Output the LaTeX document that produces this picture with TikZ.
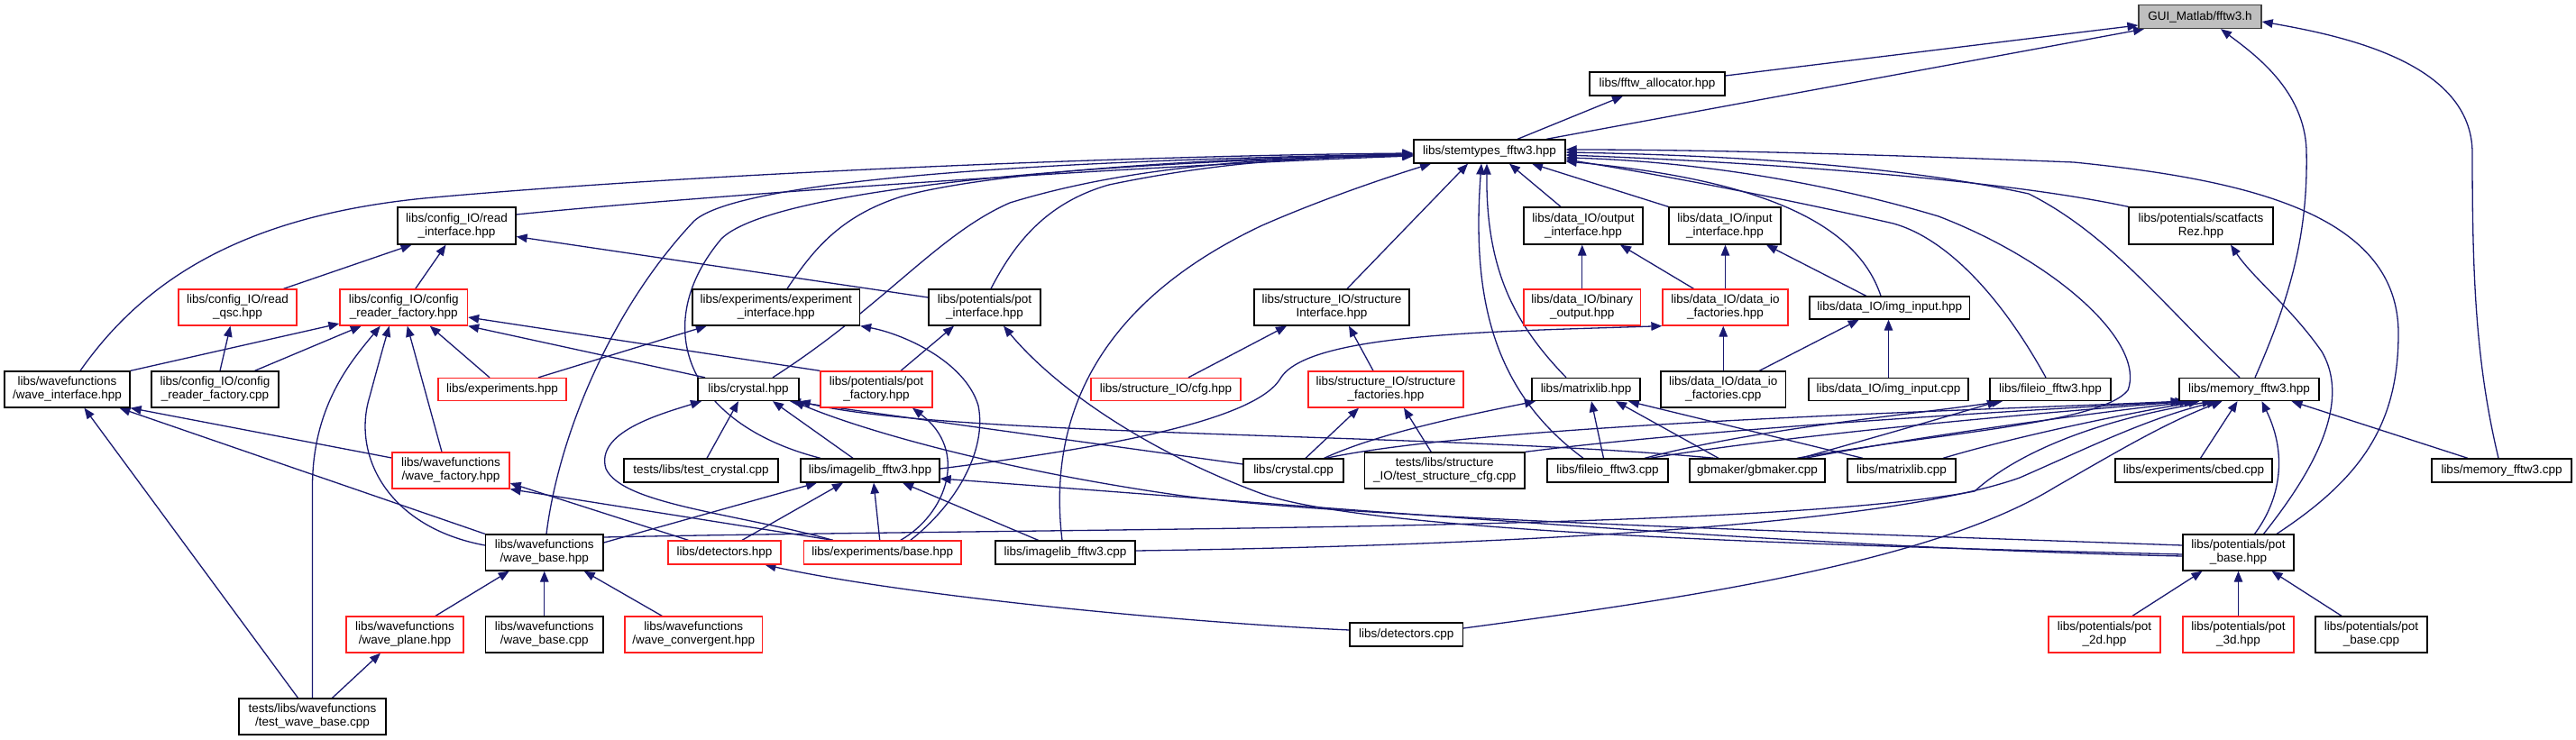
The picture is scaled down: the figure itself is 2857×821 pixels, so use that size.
\documentclass[tikz,border=0pt]{standalone}
\usepackage{fontspec}
\setmainfont{Liberation Sans}
\usetikzlibrary{arrows.meta}
\pgfdeclarelayer{background}
\pgfsetlayers{background,main}
\definecolor{edgeblue}{HTML}{191970}
\definecolor{nodered}{HTML}{FF2020}
\definecolor{rootfill}{HTML}{BFBFBF}
\begin{document}
\begin{tikzpicture}[x=1pt,y=-1pt,
  box/.style={draw=black, line width=1.3pt, fill=white, inner sep=0pt, align=center, font=\fontsize{13.5pt}{15pt}\selectfont},
  rbox/.style={box, draw=nodered},
  inc/.style={draw=edgeblue, line width=1.3pt, -{Triangle[length=12pt,width=9.5pt]}},
]
\useasboundingbox (0,0) rectangle (2857,821);
% ---------------- nodes ----------------
\node[box, fill=rootfill, draw=black!75, minimum width=136pt, minimum height=26pt] (GUI) at (2440,18.5) {GUI\_Matlab/fftw3.h};
\node[box, minimum width=150pt, minimum height=26pt] (alloc) at (1838,93) {libs/fftw\_allocator.hpp};
\node[box, minimum width=168pt, minimum height=26pt] (stem) at (1652,168) {libs/stemtypes\_fftw3.hpp};
\node[box, minimum width=131pt, minimum height=41pt] (readif) at (506.5,250.5) {libs/config\_IO/read\\\_interface.hpp};
\node[box, minimum width=132pt, minimum height=41pt] (outif) at (1756,250.5) {libs/data\_IO/output\\\_interface.hpp};
\node[box, minimum width=124pt, minimum height=41pt] (inif) at (1913,250.5) {libs/data\_IO/input\\\_interface.hpp};
\node[box, minimum width=160pt, minimum height=41pt] (scat) at (2441,250.5) {libs/potentials/scatfacts\\Rez.hpp};
\node[rbox, minimum width=131pt, minimum height=40pt] (readqsc) at (263.5,341) {libs/config\_IO/read\\\_qsc.hpp};
\node[rbox, minimum width=141.5pt, minimum height=40pt] (crfh) at (447.75,341) {libs/config\_IO/config\\\_reader\_factory.hpp};
\node[box, minimum width=185.5pt, minimum height=40pt] (expif) at (860.75,341) {libs/experiments/experiment\\\_interface.hpp};
\node[box, minimum width=124pt, minimum height=40pt] (potif) at (1092,341) {libs/potentials/pot\\\_interface.hpp};
\node[box, minimum width=172pt, minimum height=40pt] (structif) at (1477,341) {libs/structure\_IO/structure\\Interface.hpp};
\node[rbox, minimum width=129.5pt, minimum height=40pt] (binout) at (1754.75,341) {libs/data\_IO/binary\\\_output.hpp};
\node[rbox, minimum width=139pt, minimum height=40pt] (diofh) at (1913.5,341) {libs/data\_IO/data\_io\\\_factories.hpp};
\node[box, minimum width=177.5pt, minimum height=25pt] (imginh) at (2095.75,341.5) {libs/data\_IO/img\_input.hpp};
\node[box, minimum width=139pt, minimum height=40pt] (waveif) at (74.5,432) {libs/wavefunctions\\/wave\_interface.hpp};
\node[box, minimum width=141pt, minimum height=40pt] (crfc) at (238.5,432) {libs/config\_IO/config\\\_reader\_factory.cpp};
\node[rbox, minimum width=142pt, minimum height=25pt] (exph) at (557,432) {libs/experiments.hpp};
\node[box, minimum width=112pt, minimum height=25pt] (crysh) at (830,432) {libs/crystal.hpp};
\node[rbox, minimum width=124pt, minimum height=40pt] (potfac) at (972,432) {libs/potentials/pot\\\_factory.hpp};
\node[rbox, minimum width=166pt, minimum height=25pt] (cfg) at (1293,432) {libs/structure\_IO/cfg.hpp};
\node[rbox, minimum width=172pt, minimum height=40pt] (structfac) at (1537,432) {libs/structure\_IO/structure\\\_factories.hpp};
\node[box, minimum width=120pt, minimum height=25pt] (matrixh) at (1759,432) {libs/matrixlib.hpp};
\node[box, minimum width=138.5pt, minimum height=40pt] (diofc) at (1911.25,432) {libs/data\_IO/data\_io\\\_factories.cpp};
\node[box, minimum width=177pt, minimum height=25pt] (imginc) at (2094.5,432) {libs/data\_IO/img\_input.cpp};
\node[box, minimum width=134pt, minimum height=25pt] (fileioh) at (2274,432) {libs/fileio\_fftw3.hpp};
\node[box, minimum width=155pt, minimum height=25pt] (memh) at (2494.5,432) {libs/memory\_fftw3.hpp};
\node[rbox, minimum width=130pt, minimum height=40pt] (wavefac) at (500,522) {libs/wavefunctions\\/wave\_factory.hpp};
\node[box, minimum width=171pt, minimum height=26pt] (testcrys) at (777.5,522) {tests/libs/test\_crystal.cpp};
\node[box, minimum width=154pt, minimum height=26pt] (imageh) at (965,522) {libs/imagelib\_fftw3.hpp};
\node[box, minimum width=111pt, minimum height=26pt] (crysc) at (1434.5,522) {libs/crystal.cpp};
\node[box, minimum width=177.5pt, minimum height=40pt] (teststruct) at (1602.25,522) {tests/libs/structure\\\_IO/test\_structure\_cfg.cpp};
\node[box, minimum width=134pt, minimum height=26pt] (fileioc) at (1783,522) {libs/fileio\_fftw3.cpp};
\node[box, minimum width=150pt, minimum height=26pt] (gbm) at (1949,522) {gbmaker/gbmaker.cpp};
\node[box, minimum width=120pt, minimum height=26pt] (matrixc) at (2109,522) {libs/matrixlib.cpp};
\node[box, minimum width=174pt, minimum height=26pt] (cbed) at (2433,522) {libs/experiments/cbed.cpp};
\node[box, minimum width=155pt, minimum height=26pt] (memc) at (2774.5,522) {libs/memory\_fftw3.cpp};
\node[box, minimum width=130.5pt, minimum height=40pt] (waveb) at (603.75,613) {libs/wavefunctions\\/wave\_base.hpp};
\node[rbox, minimum width=125pt, minimum height=26pt] (detectorh) at (803.5,613) {libs/detectors.hpp};
\node[rbox, minimum width=174.5pt, minimum height=26pt] (expbase) at (978.75,613) {libs/experiments/base.hpp};
\node[box, minimum width=155pt, minimum height=26pt] (imagec) at (1181.5,613) {libs/imagelib\_fftw3.cpp};
\node[box, minimum width=123pt, minimum height=40pt] (potbase) at (2482.5,613) {libs/potentials/pot\\\_base.hpp};
\node[rbox, minimum width=130pt, minimum height=40pt] (waveplane) at (449,704) {libs/wavefunctions\\/wave\_plane.hpp};
\node[box, minimum width=130.5pt, minimum height=40pt] (wavebc) at (603.75,704) {libs/wavefunctions\\/wave\_base.cpp};
\node[rbox, minimum width=152.5pt, minimum height=40pt] (waveconv) at (769.25,704) {libs/wavefunctions\\/wave\_convergent.hpp};
\node[box, minimum width=125.5pt, minimum height=26pt] (detc) at (1559.75,704) {libs/detectors.cpp};
\node[rbox, minimum width=124pt, minimum height=40pt] (pot2d) at (2334,704) {libs/potentials/pot\\\_2d.hpp};
\node[rbox, minimum width=123pt, minimum height=40pt] (pot3d) at (2482.5,704) {libs/potentials/pot\\\_3d.hpp};
\node[box, minimum width=124pt, minimum height=40pt] (potbc) at (2630,704) {libs/potentials/pot\\\_base.cpp};
\node[box, minimum width=163pt, minimum height=40pt] (testwave) at (346.5,795) {tests/libs/wavefunctions\\/test\_wave\_base.cpp};
% ---------------- edges ----------------
\begin{pgfonlayer}{background}
% to GUI
\draw[inc] ([yshift=9pt]alloc.east) -- ([yshift=-9.5pt]GUI.west);
\draw[inc] ([xshift=63pt]stem.north) -- ([xshift=-62pt]GUI.south);
\draw[inc] ([xshift=6.5pt]memh.north) .. controls (2540,330) and (2560,260) .. (2558,167) .. controls (2556,100) and (2500,60) .. ([xshift=23pt]GUI.south);
\draw[inc] ([xshift=-3.5pt]memc.north) .. controls (2745,400) and (2742,300) .. (2742,170) .. controls (2742,70) and (2600,40) .. ([yshift=-5.5pt]GUI.east);
% to alloc
\draw[inc] ([xshift=31pt]stem.north) -- ([xshift=-38pt]alloc.south);
% to stem
\draw[inc] ([xshift=14.5pt]waveif.north) .. controls (160,310) and (270,240) .. (470,220) .. controls (800,190) and (1300,172) .. ([yshift=-2pt]stem.west);
\draw[inc] ([yshift=12.5pt]readif.east) .. controls (800,215) and (1300,182) .. ([yshift=-5pt]stem.west);
\draw[inc] ([xshift=2.25pt]waveb.north) .. controls (620,480) and (680,340) .. (770,245) .. controls (820,200) and (1150,178) .. ([yshift=-3pt]stem.west);
\draw[inc] ([xshift=-55pt]imageh.north) .. controls (760,470) and (720,360) .. (800,265) .. controls (850,215) and (1150,182) .. ([yshift=-4pt]stem.west);
\draw[inc] ([xshift=12.25pt]expif.north) .. controls (900,280) and (930,240) .. (1000,218) .. controls (1100,190) and (1350,175) .. ([yshift=-3pt]stem.west);
\draw[inc] ([xshift=27pt]crysh.north) .. controls (980,340) and (1040,260) .. (1120,225) .. controls (1250,185) and (1400,175) .. ([yshift=-4pt]stem.west);
\draw[inc] ([xshift=7pt]potif.north) .. controls (1125,270) and (1160,225) .. (1230,205) .. controls (1350,180) and (1450,174) .. ([yshift=-5pt]stem.west);
\draw[inc] ([xshift=-3.5pt]imagec.north) .. controls (1160,450) and (1230,330) .. (1400,250) .. controls (1480,215) and (1560,190) .. ([xshift=-65pt]stem.south);
\draw[inc] ([xshift=17pt]structif.north) -- ([xshift=-24pt]stem.south);
\draw[inc] ([xshift=-22pt]matrixh.north) .. controls (1680,360) and (1648,300) .. ([xshift=-3pt]stem.south);
\draw[inc] ([xshift=-27pt]fileioc.north) .. controls (1650,430) and (1633,320) .. ([xshift=-9pt]stem.south);
\draw[inc] ([xshift=-25pt]outif.north) -- ([xshift=22pt]stem.south);
\draw[inc] (inif.north west) -- ([xshift=47pt]stem.south);
\draw[inc] (scat.north west) .. controls (2200,195) and (1900,178) .. ([yshift=-4pt]stem.east);
\draw[inc] ([xshift=42.5pt]potbase.north) .. controls (2620,530) and (2660,470) .. (2660,370) .. controls (2660,240) and (2500,200) .. (2300,180) .. controls (2100,172) and (1900,166) .. ([yshift=2pt]stem.east);
\draw[inc] ([xshift=-10.5pt]memh.north) .. controls (2400,340) and (2340,260) .. (2250,215) .. controls (2100,182) and (1900,172) .. ([yshift=-1pt]stem.east);
\draw[inc] ([xshift=44pt]gbm.north) .. controls (2150,480) and (2330,470) .. (2360,433) .. controls (2380,380) and (2280,290) .. (2150,240) .. controls (2000,195) and (1850,178) .. ([yshift=-7pt]stem.east);
\draw[inc] ([xshift=-5pt]fileioh.north) .. controls (2220,330) and (2160,265) .. (2100,248) .. controls (2000,225) and (1850,195) .. ([yshift=-9pt]stem.east);
\draw[inc] ([xshift=-9.75pt]imginh.north) .. controls (2060,250) and (1960,200) .. ([yshift=-11pt]stem.east);
% to readif
\draw[inc] ([xshift=51pt]readqsc.north) -- ([xshift=-50pt]readif.south);
\draw[inc] ([xshift=13pt]crfh.north) -- ([xshift=-12pt]readif.south);
\draw[inc] ([yshift=11pt]potif.west) -- ([yshift=-12pt]readif.east);
% to crfh
\draw[inc] (waveif.north east) -- ([yshift=-18pt]crfh.west);
\draw[inc] ([xshift=44pt]crfc.north) -- ([xshift=-47pt]crfh.south);
\draw[inc] (testwave.north) -- (346.5,540) .. controls (346.5,450) and (390,400) .. ([xshift=-26pt]crfh.south);
\draw[inc] ([yshift=8pt]waveb.west) .. controls (430,585) and (390,505) .. (410,440) .. controls (418,410) and (425,385) .. ([xshift=-16pt]crfh.south);
\draw[inc] ([xshift=-10pt]wavefac.north) -- ([xshift=4pt]crfh.south);
\draw[inc] ([xshift=-14pt]exph.north) -- ([xshift=29pt]crfh.south);
\draw[inc] (potfac.north west) -- ([yshift=-11pt]crfh.east);
\draw[inc] ([xshift=-48pt]crysh.north) -- (crfh.south east);
% to readqsc
\draw[inc] ([xshift=5.5pt]crfc.north) -- ([xshift=-8pt]readqsc.south);
% to expif
\draw[inc] ([xshift=40pt]exph.north) -- ([xshift=-77pt]expif.south);
\draw[inc] ([xshift=31pt]expbase.north) .. controls (1060,560) and (1095,500) .. (1085,450) .. controls (1070,400) and (1000,370) .. (expif.south east);
% to potif
\draw[inc] ([xshift=27pt]potfac.north) -- ([xshift=-34pt]potif.south);
\draw[inc] ([yshift=-2pt]potbase.west) .. controls (2000,605) and (1520,590) .. (1400,548) .. controls (1270,500) and (1170,430) .. ([xshift=21pt]potif.south);
% to structif
\draw[inc] ([xshift=25pt]cfg.north) -- ([xshift=-50pt]structif.south);
\draw[inc] ([xshift=-14pt]structfac.north) -- ([xshift=19pt]structif.south);
% to outif, inif
\draw[inc] (binout.north) -- (binout.north |- outif.south);
\draw[inc] ([xshift=-35pt]diofh.north) -- ([xshift=41pt]outif.south);
\draw[inc] (diofh.north) -- (diofh.north |- inif.south);
\draw[inc] ([xshift=-26pt]imginh.north) -- ([xshift=46pt]inif.south);
% to diofh
\draw[inc] (diofc.north) -- (diofc.north |- diofh.south);
\draw[inc] ([yshift=2pt]imageh.east) .. controls (1200,500) and (1390,470) .. (1420,420) .. controls (1450,370) and (1650,368) .. (diofh.south west);
% to imginh
\draw[inc] ([xshift=40pt]diofc.north) -- ([xshift=-34pt]imginh.south);
\draw[inc] (imginc.north) -- (imginc.north |- imginh.south);
% to waveif
\draw[inc] ([yshift=14pt]wavefac.west) -- (waveif.south east);
\draw[inc] (waveb.north west) -- ([xshift=58pt]waveif.south);
\draw[inc] ([xshift=-16pt]testwave.north) -- ([xshift=19pt]waveif.south);
% to crysh
\draw[inc] ([xshift=6.5pt]testcrys.north) -- ([xshift=-11pt]crysh.south);
\draw[inc] ([xshift=-19pt]imageh.north) -- ([xshift=27pt]crysh.south);
\draw[inc] ([yshift=7pt]crysc.west) -- ([xshift=46pt]crysh.south);
\draw[inc] ([xshift=-47pt]gbm.north) .. controls (1600,480) and (1050,485) .. (crysh.south east);
\draw[inc] ([xshift=-55pt]expbase.north) .. controls (820,570) and (690,560) .. (672,520) .. controls (660,480) and (730,460) .. ([xshift=-52pt]crysh.south);
\draw[inc] ([yshift=8pt]potbase.west) .. controls (2000,590) and (1500,575) .. (1311,550) .. controls (1100,520) and (950,475) .. ([xshift=50pt]crysh.south);
% to imageh
\draw[inc] ([yshift=-4pt]potbase.west) .. controls (2000,608) and (1500,565) .. ([yshift=-9pt]imageh.east);
\draw[inc] ([yshift=11pt]waveb.east) -- ([xshift=-59pt]imageh.south);
\draw[inc] ([xshift=19.5pt]detectorh.north) -- ([xshift=-30pt]imageh.south);
\draw[inc] ([xshift=-3pt]expbase.north) -- ([xshift=4pt]imageh.south);
\draw[inc] ([xshift=-30pt]imagec.north) -- ([xshift=36pt]imageh.south);
% to potfac
\draw[inc] ([xshift=20pt]expbase.north) .. controls (1050,570) and (1075,500) .. ([xshift=40pt]potfac.south);
% to structfac
\draw[inc] ([xshift=13.5pt]crysc.north) -- ([xshift=-30pt]structfac.south);
\draw[inc] ([xshift=-15pt]teststruct.north) -- ([xshift=20pt]structfac.south);
% to matrixh
\draw[inc] ([xshift=34pt]crysc.north) .. controls (1530,480) and (1630,460) .. ([xshift=-56pt]matrixh.south);
\draw[inc] ([xshift=-4.5pt]fileioc.north) -- ([xshift=6pt]matrixh.south);
\draw[inc] ([xshift=-43pt]gbm.north) -- ([xshift=33pt]matrixh.south);
\draw[inc] ([xshift=-43pt]matrixc.north) -- ([xshift=47pt]matrixh.south);
% to fileioh
\draw[inc] ([xshift=41pt]fileioc.north) .. controls (1950,475) and (2120,460) .. ([xshift=-53pt]fileioh.south);
\draw[inc] ([xshift=48pt]gbm.north) .. controls (2080,485) and (2160,462) .. ([xshift=-58pt]fileioh.south);
% to memh
\draw[inc] ([xshift=36pt]crysc.north) .. controls (1650,470) and (2200,455) .. ([xshift=-75pt]memh.south);
\draw[inc] (teststruct.north east) .. controls (1900,475) and (2250,455) .. ([xshift=-70pt]memh.south);
\draw[inc] ([xshift=47pt]fileioc.north) .. controls (2000,480) and (2300,455) .. ([xshift=-65pt]memh.south);
\draw[inc] ([xshift=53pt]gbm.north) .. controls (2150,480) and (2350,455) .. ([xshift=-60pt]memh.south);
\draw[inc] ([xshift=46pt]matrixc.north) .. controls (2250,480) and (2380,455) .. ([xshift=-55pt]memh.south);
\draw[inc] ([xshift=7.5pt]cbed.north) -- ([xshift=-13pt]memh.south);
\draw[inc] ([xshift=-37.5pt]memc.north) -- ([xshift=47pt]memh.south);
\draw[inc] ([xshift=18pt]potbase.north) .. controls (2525,560) and (2540,510) .. ([xshift=14pt]memh.south);
\draw[inc] ([yshift=17pt]waveb.east) .. controls (1200,585) and (1950,590) .. (2190,545) .. controls (2240,500) and (2330,465) .. ([xshift=-40pt]memh.south);
\draw[inc] ([yshift=7pt]detc.east) .. controls (1900,660) and (2150,620) .. (2280,540) .. controls (2350,500) and (2400,470) .. ([xshift=-30pt]memh.south);
\draw[inc] ([yshift=2pt]imagec.east) .. controls (1700,605) and (2100,580) .. (2240,530) .. controls (2320,495) and (2380,465) .. ([xshift=-35pt]memh.south);
% to wavefac
\draw[inc] ([xshift=-40pt]detectorh.north) -- ([yshift=-14pt]wavefac.east);
\draw[inc] ([xshift=-55pt]expbase.north) -- (wavefac.south east);
% to waveb
\draw[inc] ([xshift=34pt]waveplane.north) -- ([xshift=-39pt]waveb.south);
\draw[inc] (wavebc.north) -- (waveb.south);
\draw[inc] ([xshift=-35pt]waveconv.north) -- ([xshift=44pt]waveb.south);
% to waveplane
\draw[inc] ([xshift=22pt]testwave.north) -- ([xshift=-27pt]waveplane.south);
% to detectorh
\draw[inc] ([yshift=5pt]detc.west) .. controls (1300,690) and (1000,660) .. ([xshift=45pt]detectorh.south);
% to potbase
\draw[inc] ([xshift=31pt]pot2d.north) -- ([xshift=-40pt]potbase.south);
\draw[inc] (pot3d.north) -- (potbase.south);
\draw[inc] ([xshift=-33pt]potbc.north) -- ([xshift=37pt]potbase.south);
% to scat
\draw[inc] ([xshift=28pt]potbase.north) .. controls (2560,530) and (2610,450) .. (2575,390) .. controls (2540,340) and (2500,310) .. ([xshift=33pt]scat.south);
\end{pgfonlayer}
\end{tikzpicture}
\end{document}
